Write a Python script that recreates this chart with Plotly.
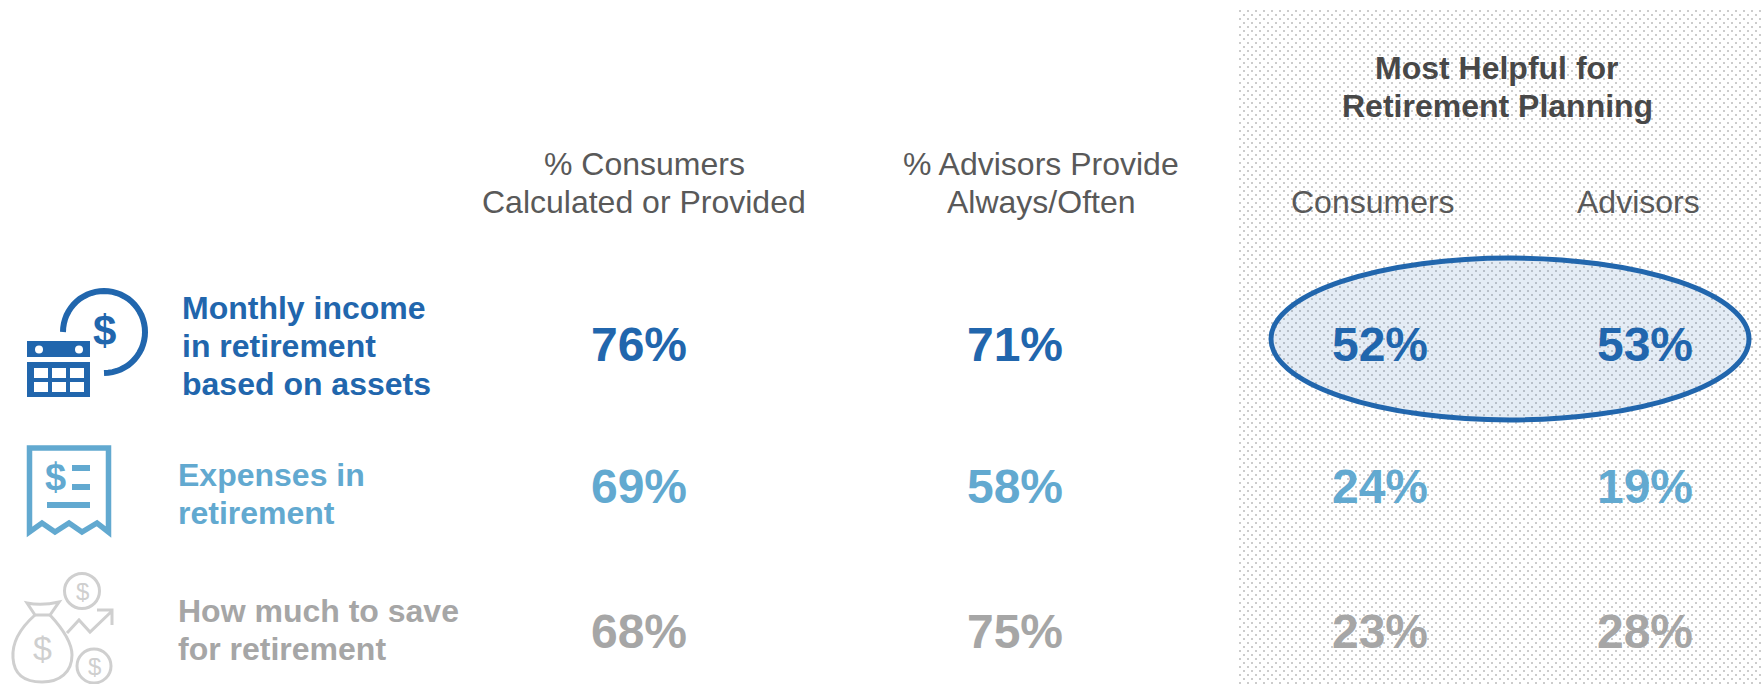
import math
import plotly.graph_objects as go

NAVY = "#2166ad"
SKY = "#62a9d0"
GREY = "#a6a6a6"
HEAD = "#595959"
DARK = "#484848"
ICON_GREY = "#cfcfcf"
DOT = "#cccccc"

metrics = [["Monthly income", "in retirement", "based on assets"],
           ["Expenses in", "retirement"],
           ["How much to save", "for retirement"]]
consumers_provided = ["76%", "69%", "68%"]
advisors_provide = ["71%", "58%", "75%"]
consumers_helpful = ["52%", "24%", "23%"]
advisors_helpful = ["53%", "19%", "28%"]
row_colors = [NAVY, SKY, GREY]
row_y = [348.5, 490.5, 635.5]
col_x = {"cp": 639, "ap": 1015, "ch": 1380, "ah": 1645}
label_x = [179.5, 175.5, 175.5]
label_y0 = [308, 475, 611]
LINE = 38

headers = [("% Consumers", 644, 164, False, HEAD), ("Calculated or Provided", 643.5, 202, False, HEAD),
           ("% Advisors Provide", 1041, 164, False, HEAD), ("Always/Often", 1041, 202, False, HEAD),
           ("Consumers", 1373, 202, False, HEAD), ("Advisors", 1638, 202, False, HEAD),
           ("Most Helpful for", 1497, 68, True, DARK), ("Retirement Planning", 1497, 106, True, DARK)]

FONT = "Liberation Sans, Arial, sans-serif"
fig = go.Figure()

# percentage values, one text trace per row
for i, c in enumerate(row_colors):
    fig.add_trace(go.Scatter(
        x=[col_x["cp"], col_x["ap"], col_x["ch"], col_x["ah"]],
        y=[row_y[i]] * 4,
        text=[f"<b>{v[i]}</b>" for v in (consumers_provided, advisors_provide, consumers_helpful, advisors_helpful)],
        mode="text", textposition="middle center",
        textfont=dict(family=FONT, size=48, color=c),
        hoverinfo="skip", showlegend=False))

ann = []
def T(t, x, y, size, color, bold=False, xanchor="center"):
    txt = f"<b>{t}</b>" if bold else t
    ann.append(dict(text=txt, x=x, y=y, xref="x", yref="y", showarrow=False, xanchor=xanchor, yanchor="middle",
                    font=dict(family=FONT, size=size, color=color)))

for t, x, y, b, c in headers:
    T(t, x, y, 32, c, b)
for i, c in enumerate(row_colors):
    for j, line in enumerate(metrics[i]):
        T(line, label_x[i], label_y0[i] + j * LINE, 32, c, True, "left")

# dotted panel: a staggered 2px dot texture
parts = []
for r, yy in enumerate(range(10, 684, 4)):
    for xx in range(1239 + (4 if r % 2 else 0), 1762, 8):
        parts.append(f"M{xx},{yy}H{xx+2}V{yy+2}H{xx}Z")
shapes = [dict(type="path", path="".join(parts), xref="x", yref="y", layer="below",
               line=dict(width=0), fillcolor=DOT)]
shapes.append(dict(type="circle", xref="x", yref="y", x0=1271, x1=1749, y0=258, y1=420,
                   line=dict(color=NAVY, width=5), fillcolor="rgba(33,102,173,0.12)", layer="below"))

def P(d, color, w=0, fill=None):
    shapes.append(dict(type="path", path=d, xref="x", yref="y", layer="above",
                       line=dict(color=color, width=w), fillcolor=fill if fill else "rgba(0,0,0,0)"))

def C(cx, cy, r, color, w=0, fill=None):
    shapes.append(dict(type="circle", xref="x", yref="y", layer="above", x0=cx-r, x1=cx+r, y0=cy-r, y1=cy+r,
                       line=dict(color=color, width=w), fillcolor=fill if fill else "rgba(0,0,0,0)"))

# icon 1: calendar with dollar arc
arc = [(104 + 41 * math.cos(math.radians(a)), 332 + 41 * math.sin(math.radians(a))) for a in range(180, 451, 6)]
P("M" + " L".join(f"{x:.1f},{y:.1f}" for x, y in arc), NAVY, 6)
T("$", 104, 330, 42, NAVY, True)
P("M27,341 H90 V357 H27 Z", NAVY, 0, NAVY)
P("M27,362 H90 V397 H27 Z", NAVY, 0, NAVY)
for cx in (39, 79):
    C(cx, 349.5, 4, "white", 0, "white")
for cx in (34, 52, 70):
    for cy in (368, 382):
        P(f"M{cx},{cy} H{cx+14} V{cy+10} H{cx} Z", "white", 0, "white")

# icon 2: receipt
P("M29.5,448 H108.5 V532 L97,523 L82,532 L69,523 L55,532 L42,523 L29.5,532 Z", SKY, 5.5)
T("$", 55, 477, 38, SKY, True)
P("M72,468 H90", SKY, 6); P("M72,487 H90", SKY, 6); P("M47,505 H90", SKY, 6)

# icon 3: money bag
C(82, 591, 17.5, ICON_GREY, 3)
C(94, 666, 17, ICON_GREY, 3)
T("$", 82, 591, 24, ICON_GREY)
T("$", 94, 666, 24, ICON_GREY)
P("M27,603 Q42,606 59,602 L50,615 H35 Z", ICON_GREY, 3)
P("M35,615 C18,630 12,645 13,658 C14,675 25,682 42,682 C60,682 72,672 72,655 C72,642 62,628 50,615", ICON_GREY, 3)
T("$", 42, 648, 34, ICON_GREY)
P("M67,633 L79,620 L90,632 L112,611 M97,610 H112 V625", ICON_GREY, 3)

fig.update_layout(width=1762, height=684, margin=dict(l=0, r=0, t=0, b=0), paper_bgcolor="white", plot_bgcolor="rgba(0,0,0,0)",
                  xaxis=dict(range=[0, 1762], visible=False, fixedrange=True),
                  yaxis=dict(range=[684, 0], visible=False, fixedrange=True),
                  annotations=ann, shapes=shapes, showlegend=False)
fig.write_html("out.html", config={"displayModeBar": False},
               post_script="document.body.style.margin='0';document.documentElement.style.overflow='hidden';")
